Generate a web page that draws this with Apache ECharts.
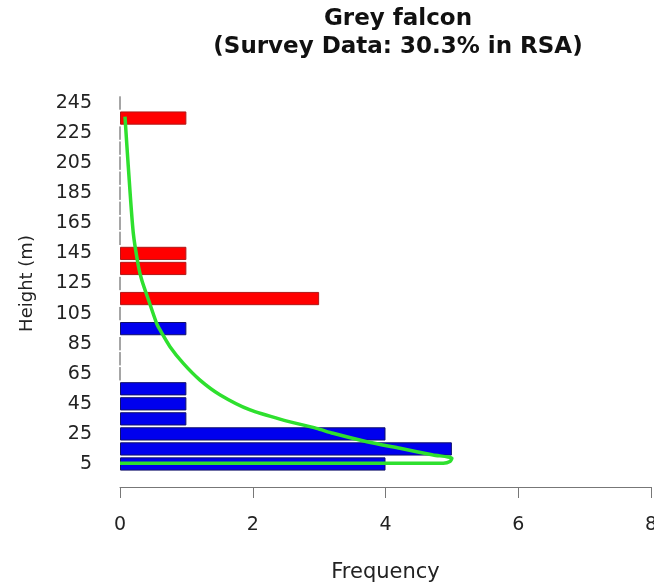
<!DOCTYPE html>
<html>
<head>
<meta charset="utf-8">
<script src="https://cdn.jsdelivr.net/npm/echarts@6/dist/echarts.min.js"></script>
<style>
html,body{margin:0;padding:0;background:#fff;}
#chart{width:654px;height:585px;}
</style>
</head>
<body>
<div id="chart"></div>
<script>
// Height bins (m), bin centres
const heightBins = ['5','15','25','35','45','55','65','75','85','95','105','115','125','135','145','155','165','175','185','195','205','215','225','235','245'];
// Observed flight frequency per bin
const frequency = [4,5,4,1,1,1,0,0,0,1,0,3,0,1,1,0,0,0,0,0,0,0,0,1,0];
// Lower bound of the rotor-swept area (m); bins above it are shown in red
const rsaLowerBound = 100;
// Fitted curve: [frequency, height m]
const curveFreq   = [0, 4.22, 4.87, 4.97, 5.0, 4.72, 4.22, 3.72, 3.21, 2.96, 2.46, 1.96, 1.51, 1.205, 0.954, 0.753, 0.603, 0.55, 0.43, 0.33, 0.28, 0.20, 0.125, 0.075];
const curveHeight = [5.45, 5.45, 5.5, 6.6, 8.8, 11.0, 15.4, 19.8, 25.4, 28.7, 34.2, 40.9, 50.9, 60.8, 71.9, 83.0, 94.1, 98.7, 114, 127, 136, 158.6, 202.7, 236];
const xTicks = [0, 2, 4, 6, 8];

const FONT = 'DejaVu Sans';
const chart = echarts.init(document.getElementById('chart'), null, {renderer: 'canvas'});

const barData = frequency.map(function (v, i) {
  const h = parseFloat(heightBins[i]);
  const inRsa = h > rsaLowerBound;
  if (v === 0) {
    return {value: v, itemStyle: {color: '#888', borderColor: '#888', borderWidth: 1}};
  }
  return {
    value: v,
    itemStyle: {
      color: inRsa ? '#ff0000' : '#0000ee',
      borderColor: inRsa ? '#b01818' : '#10106a',
      borderWidth: 1
    }
  };
});

const curveData = curveFreq.map(function (f, i) { return [f, curveHeight[i]]; });

chart.setOption({
  animation: false,
  backgroundColor: '#ffffff',
  title: {
    text: 'Grey falcon\n(Survey Data: 30.3% in RSA)',
    left: 393,
    top: 0,
    textAlign: 'center',
    textStyle: {fontFamily: FONT, fontWeight: 'bold', fontSize: 23, lineHeight: 28, color: '#111'}
  },
  grid: {left: 120, right: 3, top: 95.5, bottom: 113.5, containLabel: false, outerBoundsMode: 'none'},
  xAxis: {
    type: 'value',
    min: xTicks[0],
    max: xTicks[xTicks.length - 1],
    interval: 2,
    offset: 15.5,
    name: 'Frequency',
    nameLocation: 'middle',
    nameGap: 75,
    nameTextStyle: {fontFamily: FONT, fontSize: 21, color: '#222'},
    axisLine: {show: true, onZero: false, lineStyle: {color: '#777', width: 1}},
    axisTick: {show: true, length: 11, lineStyle: {color: '#777'}},
    axisLabel: {fontFamily: FONT, fontSize: 19, color: '#222', margin: 29},
    splitLine: {show: false}
  },
  yAxis: [
    {
      type: 'category',
      data: heightBins,
      name: 'Height (m)',
      nameLocation: 'middle',
      nameGap: 84,
      nameTextStyle: {fontFamily: FONT, fontSize: 18, color: '#222'},
      axisLine: {show: false},
      axisTick: {show: false},
      axisLabel: {fontFamily: FONT, fontSize: 19, color: '#222', margin: 28, interval: 1}
    },
    {
      type: 'value',
      min: 0,
      max: 250,
      show: false
    }
  ],
  series: [
    {
      type: 'bar',
      yAxisIndex: 0,
      data: barData,
      barCategoryGap: '12%'
    },
    {
      type: 'line',
      yAxisIndex: 1,
      data: curveData,
      showSymbol: false,
      smooth: 0.25,
      lineStyle: {color: '#2ee02e', width: 3.5},
      z: 5
    }
  ]
});
</script>
</body>
</html>
